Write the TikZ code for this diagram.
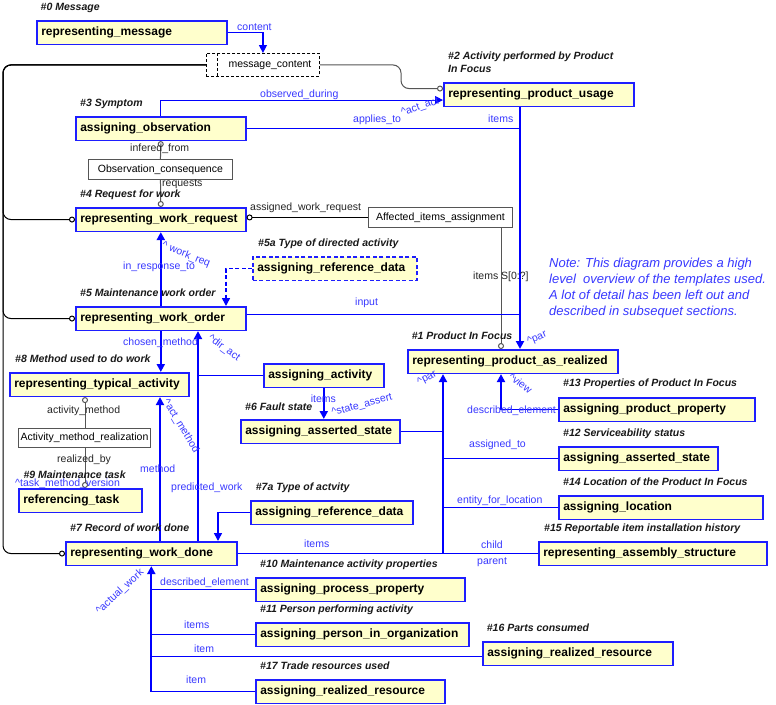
\documentclass[tikz,border=0pt]{standalone}
\usepackage{fontspec}
\setmainfont{Liberation Sans}
\usetikzlibrary{arrows.meta,calc}
\definecolor{boxfill}{HTML}{FFFFCC}
\definecolor{boxline}{HTML}{1E1EFF}
\definecolor{lnblue}{HTML}{0000FF}
\definecolor{lblblue}{HTML}{3838FF}
\definecolor{greyline}{HTML}{555555}
\begin{document}
\begin{tikzpicture}[x=1pt,y=-1pt,
 box/.style={draw=boxline,line width=1.6pt,fill=boxfill,anchor=north west,inner xsep=4.5pt,inner ysep=0pt,minimum height=23.5pt,align=left,font=\bfseries\fontsize{12}{14}\selectfont},
 dbox/.style={box,dash pattern=on 4pt off 2.5pt},
 cbox/.style={draw=greyline,line width=0.9pt,fill=white,anchor=north west,inner sep=0pt,minimum height=20pt,font=\fontsize{10.5}{12}\selectfont},
 lbl/.style={font=\fontsize{10.5}{12}\selectfont,text=lblblue,inner sep=0pt,anchor=west,text height=7.5pt,text depth=2pt},
 glbl/.style={lbl,text=black!85},
 rlbl/.style={lbl,anchor=center},
 ttl/.style={font=\bfseries\itshape\fontsize{10.5}{12}\selectfont,text=black!90,inner sep=0pt,anchor=west,text height=7.5pt,text depth=2pt},
 thinln/.style={draw=lnblue,line width=1pt},
 thickln/.style={draw=lnblue,line width=2pt},
 arrowend/.style={-{Triangle[length=8pt,width=8pt]}},
 ringend/.style={-{Circle[open,length=6pt,width=6pt]}},
 ringstart/.style={{Circle[open,length=6pt,width=6pt]}-},
 tree/.style={draw=black,line width=1pt,rounded corners=8pt},
 greyln/.style={draw=greyline,line width=1pt},
]
\path[fill=white,use as bounding box] (0,0) rectangle (776,704);

% ---------- boxes ----------
\node[box,text width=181pt] (msg) at (36,20) {representing\_message};
\node[cbox,draw=black,dash pattern=on 3pt off 2pt,minimum width=113pt,minimum height=23pt] (mc) at (206,53) {\hspace*{14pt}message\_content};
\draw[black,line width=0.9pt,dash pattern=on 3pt off 2pt] ($(mc.north west)+(11,0)$) -- ($(mc.south west)+(11,0)$);
\node[box,text width=181pt] (rpu) at (443,82) {representing\_product\_usage};
\node[box,text width=161pt] (aobs) at (75,116) {assigning\_observation};
\node[cbox,minimum width=144pt] (oc) at (88,159) {Observation\_consequence};
\node[box,text width=161pt] (rwr) at (75,207) {representing\_work\_request};
\node[cbox,minimum width=144pt] (aia) at (368,207) {Affected\_items\_assignment};
\node[dbox,text width=155pt] (ard1) at (252,256) {assigning\_reference\_data};
\node[box,text width=161pt] (rwo) at (75,306) {representing\_work\_order};
\node[box,text width=201pt] (rpar) at (407,349) {representing\_product\_as\_realized};
\node[box,text width=170pt] (rta) at (9,372) {representing\_typical\_activity};
\node[box,text width=111pt] (aact) at (263,363) {assigning\_activity};
\node[box,text width=150pt] (aas6) at (240,419) {assigning\_asserted\_state};
\node[box,text width=187pt] (app) at (558,397) {assigning\_product\_property};
\node[cbox,minimum width=132pt,minimum height=19pt] (amr) at (18,428) {Activity\_method\_realization};
\node[box,text width=150pt] (aas12) at (558,446) {assigning\_asserted\_state};
\node[box,text width=114pt] (rt) at (18,488) {referencing\_task};
\node[box,text width=195pt] (aloc) at (558,495) {assigning\_location};
\node[box,text width=153pt] (ard2) at (250,500) {assigning\_reference\_data};
\node[box,text width=162pt] (rwd) at (65,541) {representing\_work\_done};
\node[box,text width=219pt] (ras) at (538,541) {representing\_assembly\_structure};
\node[box,text width=200pt] (apr) at (255,577) {assigning\_process\_property};
\node[box,text width=204pt] (apio) at (255,622) {assigning\_person\_in\_organization};
\node[box,text width=181pt] (arr16) at (482,641) {assigning\_realized\_resource};
\node[box,text width=180pt] (arr17) at (255,679) {assigning\_realized\_resource};

% ---------- helper coordinates ----------
\coordinate (xL) at (3,0);
\coordinate (xM) at (401,0);
\coordinate (xA) at (501,0);
\coordinate (xV) at (520,0);
\coordinate (xB) at (226,0);
\coordinate (xC) at (198,0);
\coordinate (xD) at (443,0);
\coordinate (xE) at (160,0);
\coordinate (xF) at (85,0);
\coordinate (xG) at (218,0);
\coordinate (rpuIn) at ($(rpu.west)+(0,-6)$);
\coordinate (obsIn) at ($(rpu.west)+(0,5.5)$);
\coordinate (inp) at ($(rwo.east)+(0,-4)$);
\coordinate (r16In) at ($(arr16.west)+(0,3)$);

% ---------- connectors ----------
\draw[thinln,line width=1.3pt,arrowend] (msg.east) -| (mc.north);
\draw[tree,ringend] (mc.west) -| (xL |- rwr.west) -- (rwr.west);
\draw[tree,ringend] (mc.west) -| (xL |- rwo.west) -- (rwo.west);
\draw[tree,ringend] (mc.west) -| (xL |- rwd.west) -- (rwd.west);
\draw[greyln,rounded corners=8pt,ringend] (mc.east) -- (xM |- mc.east) -- (xM |- rpuIn) -- (rpuIn);
\draw[thinln,arrowend] (aobs.north) |- (obsIn);
\draw[thinln] (aobs.east) -- (aobs.east -| xV);
\draw[thickln,arrowend] (rpu.south -| xV) -- (rpar.north -| xV);
\draw[greyln,ringstart] (aobs.south) -- (oc.north);
\draw[greyln,ringend] (oc.south) -- (rwr.north);
\draw[greyln,draw=black,ringstart] (rwr.east |- aia.west) -- (aia.west);
\draw[greyln,ringend] (aia.south -| xA) -- (rpar.north -| xA);
\draw[draw=lnblue,line width=1.5pt,dash pattern=on 4pt off 2.5pt,arrowend] (ard1.west) -| (rwo.north -| xB);
\draw[thickln,arrowend] (rwo.north) -- (rwr.south);
\draw[thinln] (inp) -- (inp -| xV);
\draw[thickln,arrowend] (rwo.south) -- (rwo.south |- rta.north);
\draw[thickln,arrowend] (rwd.north -| xC) -- (rwo.south -| xC);
\draw[thinln] (aact.west) -- (aact.west -| xC);
\draw[thickln,arrowend] (aact.south) -- (aact.south |- aas6.north);
\draw[thinln] (aas6.east) -- (aas6.east -| xD);
\draw[thickln,arrowend] (rwd.east -| xD) -- (rpar.south -| xD);
\draw[thinln] (rwd.east) -- (rwd.east -| xD);
\draw[thinln] (ras.west) -- (ras.west -| xD);
\draw[thinln] (aas12.west) -- (aas12.west -| xD);
\draw[thinln] (aloc.west) -- (aloc.west -| xD);
\draw[thinln] (app.west) -- (app.west -| xA);
\draw[thickln,arrowend] (app.west -| xA) -- (rpar.south -| xA);
\draw[thickln,arrowend] (rwd.north -| xE) -- (rta.south -| xE);
\draw[greyln,ringstart] (rta.south -| xF) -- (amr.north -| xF);
\draw[greyln,ringend] (amr.south -| xF) -- (rt.north -| xF);
\draw[draw=lnblue,line width=1.5pt,arrowend] (ard2.west) -| (rwd.north -| xG);
\draw[thickln,arrowend] (arr17.west -| rwd.south) -- (rwd.south);
\draw[thinln] (apr.west) -- (apr.west -| rwd.south);
\draw[thinln] (apio.west) -- (apio.west -| rwd.south);
\draw[thinln] (r16In) -- (r16In -| rwd.south);
\draw[thinln] (arr17.west) -- (arr17.west -| rwd.south);

% ---------- titles ----------
\node[ttl] (t0) at (40.5,7.5) {\#0 Message};
\node[ttl] (t2a) at (448,57) {\#2 Activity performed by Product};
\node[ttl] (t2b) at (448,69.5) {In Focus};
\node[ttl] (t3) at (80,103.5) {\#3 Symptom};
\node[ttl] (t4) at (80,195) {\#4 Request for work};
\node[ttl] (t5a) at (258,243.3) {\#5a Type of directed activity};
\node[ttl] (t5) at (80,294) {\#5 Maintenance work order};
\node[ttl] (t1) at (411.7,336.7) {\#1 Product In Focus};
\node[ttl] (t8) at (15,360) {\#8 Method used to do work};
\node[ttl] (t13) at (563,383.3) {\#13 Properties of Product In Focus};
\node[ttl] (t6) at (245,407.7) {\#6 Fault state};
\node[ttl] (t12) at (563,433.3) {\#12 Serviceability status};
\node[ttl] (t9) at (23.3,475.7) {\#9 Maintenance task};
\node[ttl] (t14) at (563,482.7) {\#14 Location of the Product In Focus};
\node[ttl] (t7a) at (255.7,487.3) {\#7a Type of actvity};
\node[ttl] (t7) at (70,528.3) {\#7 Record of work done};
\node[ttl] (t15) at (544,528.3) {\#15 Reportable item installation history};
\node[ttl] (t10) at (260,564.3) {\#10 Maintenance activity properties};
\node[ttl] (t11) at (260,609.3) {\#11 Person performing activity};
\node[ttl] (t16) at (486.7,628.3) {\#16 Parts consumed};
\node[ttl] (t17) at (260,666.7) {\#17 Trade resources used};

% ---------- connector labels ----------
\node[lbl] (l1) at (237,28) {content};
\node[lbl] (l2) at (260,95) {observed\_during};
\node[lbl] (l3) at (353,120) {applies\_to};
\node[lbl] (l4) at (488,120) {items};
\node[lbl] (l5) at (123,266.7) {in\_response\_to};
\node[lbl] (l6) at (355,302.7) {input};
\node[lbl] (l7) at (123,343) {chosen\_method};
\node[lbl] (l8) at (310.7,400) {items};
\node[lbl] (l9) at (467,411) {described\_element};
\node[lbl] (l10) at (469,444.7) {assigned\_to};
\node[lbl] (l11) at (140,470) {method};
\node[lbl] (l12) at (171,487.7) {predicted\_work};
\node[lbl] (l13) at (15,483.5) {\textasciicircum task\_method\_version};
\node[lbl] (l14) at (457,500.5) {entity\_for\_location};
\node[lbl] (l15) at (304,544.5) {items};
\node[lbl] (l16) at (481,546) {child};
\node[lbl] (l17) at (477,561.7) {parent};
\node[lbl] (l18) at (160,582.7) {described\_element};
\node[lbl] (l19) at (184,625.3) {items};
\node[lbl] (l20) at (194,650) {item};
\node[lbl] (l21) at (186,681) {item};
\node[glbl] (g1) at (473,277) {items S[0:?]};
\node[glbl] (g2) at (130,149) {infered\_from};
\node[glbl] (g3) at (162,184) {requests};
\node[glbl] (g4) at (250,208) {assigned\_work\_request};
\node[glbl] (g5) at (47,411) {activity\_method};
\node[glbl] (g6) at (57,460) {realized\_by};

% ---------- rotated role labels ----------
\node[rlbl,rotate=18] (r1) at (420,107) {\textasciicircum act\_act};
\node[rlbl,rotate=-22] (r2) at (186,255) {\textasciicircum\ work\_req};
\node[rlbl,rotate=-36] (r3) at (224,348) {\textasciicircum dir\_act};
\node[rlbl,rotate=-59] (r4) at (181,426) {\textasciicircum act\_method};
\node[rlbl,rotate=15] (r5) at (362,405) {\textasciicircum state\_assert};
\node[rlbl,rotate=23] (r6) at (537,338) {\textasciicircum par};
\node[rlbl,rotate=28] (r7) at (427,378) {\textasciicircum par};
\node[rlbl,rotate=-37] (r8) at (520,384) {\textasciicircum view};
\node[rlbl,rotate=43] (r9) at (120,592) {\textasciicircum actual\_work};

% ---------- note ----------
\node[font=\itshape\fontsize{13}{16}\selectfont,text=lblblue,align=left,anchor=north west,inner sep=0pt] (note) at (549,258) {Note: This diagram provides a high\\level~ overview of the templates used.\\A lot of detail has been left out and\\described in subsequet sections.};
\end{tikzpicture}
\end{document}
